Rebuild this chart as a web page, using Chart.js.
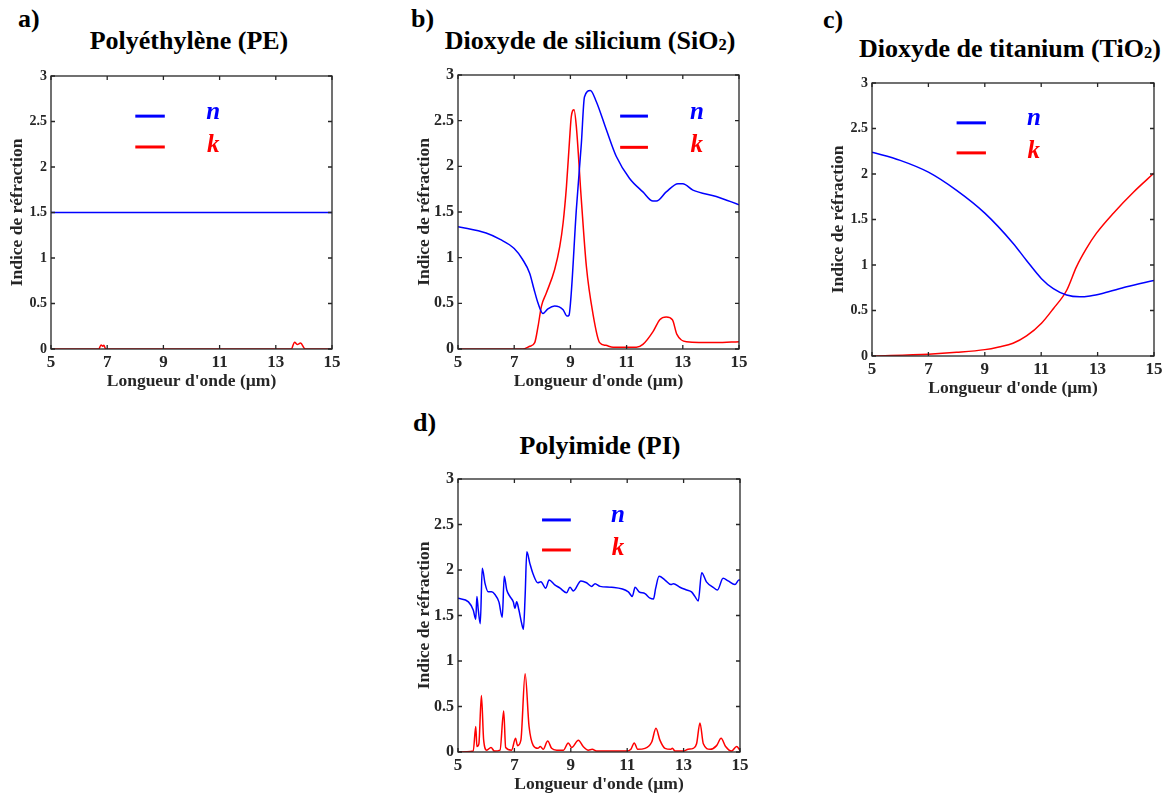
<!DOCTYPE html>
<html>
<head>
<meta charset="utf-8">
<script src="https://cdn.jsdelivr.net/npm/chart.js@4.4.1/dist/chart.umd.min.js"></script>
<style>
  body { margin: 0; background: #fff; width: 1172px; height: 798px; position: relative; overflow: hidden;
         font-family: 'Liberation Serif', 'Times New Roman', serif; }
  .lbl { position: absolute; font-weight: bold; font-size: 26px; line-height: 1; color: #000; }
  .ttl { position: absolute; font-weight: bold; font-size: 26px; line-height: 1; color: #000;
         width: 400px; text-align: center; white-space: nowrap; }
  .ttl sub { font-size: 0.64em; vertical-align: -0.08em; line-height: 0; }
  canvas { position: absolute; }
</style>
</head>
<body>
<div class="lbl" style="left:18px;top:6px">a)</div>
<div class="lbl" style="left:411px;top:6px">b)</div>
<div class="lbl" style="left:823px;top:7px">c)</div>
<div class="lbl" style="left:413px;top:410px">d)</div>

<div class="ttl" style="left:-11px;top:28px">Polyéthylène (PE)</div>
<div class="ttl" style="left:390px;top:28px">Dioxyde de silicium (SiO<sub>2</sub>)</div>
<div class="ttl" style="left:810px;top:36px">Dioxyde de titanium (TiO<sub>2</sub>)</div>
<div class="ttl" style="left:400px;top:433px">Polyimide (PI)</div>

<canvas id="pe"></canvas>
<canvas id="sio2"></canvas>
<canvas id="tio2"></canvas>
<canvas id="pi"></canvas>

<script>
const xTicks = [5, 7, 9, 11, 13, 15];
const yTicks = [0, 0.5, 1, 1.5, 2, 2.5, 3];
const seriesNames = ['n', 'k'];

// a) polyéthylène
const peWl = [5, 6.7, 6.78, 6.84, 6.88, 6.95, 13.55, 13.67, 13.76, 13.88, 14.05, 15];
const peN  = [1.5, 1.5, 1.5, 1.5, 1.5, 1.5, 1.5, 1.5, 1.5, 1.5, 1.5, 1.5];
const peK  = [0, 0, 0.045, 0.03, 0.04, 0, 0, 0.075, 0.05, 0.065, 0, 0];

// b) SiO2
const sio2WlN = [5, 6, 6.5, 7, 7.3, 7.55, 7.7, 7.85, 8.02, 8.2, 8.44, 8.74, 8.88, 8.95, 9.03, 9.21, 9.39, 9.5,
                 9.71, 9.92, 10.28, 10.63, 11.1, 11.58, 11.94, 12.06, 12.41, 12.83, 13.0, 13.36, 14.19, 15];
const sio2N   = [1.34, 1.27, 1.2, 1.1, 0.98, 0.83, 0.66, 0.5, 0.39, 0.44, 0.47, 0.43, 0.36, 0.37, 0.61, 1.52, 2.25, 2.76,
                 2.83, 2.71, 2.4, 2.11, 1.87, 1.72, 1.62, 1.62, 1.72, 1.81, 1.81, 1.74, 1.67, 1.58];
const sio2WlK = [5, 7.3, 7.55, 7.73, 7.85, 7.97, 8.14, 8.44, 8.62, 8.74, 8.86, 8.97, 9.03, 9.13, 9.21, 9.39, 9.57,
                 9.8, 10.04, 10.26, 10.52, 11.35, 11.58, 11.94, 12.18, 12.41, 12.63, 12.79, 13.13, 14.19, 15];
const sio2K   = [0, 0, 0.03, 0.07, 0.25, 0.47, 0.61, 0.87, 1.12, 1.38, 1.78, 2.29, 2.54, 2.62, 2.44, 1.63, 0.9,
                 0.39, 0.07, 0.04, 0.02, 0.02, 0.05, 0.19, 0.32, 0.35, 0.32, 0.16, 0.08, 0.07, 0.08];

// c) TiO2
const tio2WlN = [5, 6, 7, 8, 9, 10, 10.48, 11.01, 11.43, 11.9, 12.37, 12.73, 13.2, 14.03, 15];
const tio2N   = [2.24, 2.15, 2.02, 1.82, 1.57, 1.24, 1.05, 0.85, 0.74, 0.67, 0.65, 0.66, 0.69, 0.76, 0.83];
const tio2WlK = [5, 7, 8, 9, 9.5, 10, 10.48, 11.01, 11.43, 11.9, 12.25, 12.6, 12.96, 13.56, 14.27, 15];
const tio2K   = [0, 0.02, 0.04, 0.07, 0.1, 0.14, 0.22, 0.36, 0.52, 0.72, 0.98, 1.18, 1.35, 1.57, 1.8, 2.01];

// d) polyimide
const piWlN = [5, 5.37, 5.54, 5.63, 5.67, 5.72, 5.79, 5.86, 5.96, 6.07, 6.19, 6.31, 6.45, 6.57, 6.64, 6.73, 6.84,
               6.96, 7.02, 7.08, 7.16, 7.26, 7.32, 7.38, 7.44, 7.55, 7.67, 7.83, 7.94, 8.11, 8.23, 8.42, 8.62,
               8.85, 8.97, 9.09, 9.36, 9.56, 9.74, 9.86, 10.04, 10.45, 11.04, 11.18, 11.28, 11.42, 11.63, 11.81,
               11.93, 12.01, 12.13, 12.34, 12.55, 12.64, 12.87, 13.11, 13.28, 13.4, 13.52, 13.64, 13.81, 14.05,
               14.2, 14.4, 14.58, 14.82, 14.96, 15];
const piN   = [1.69, 1.65, 1.56, 1.46, 1.71, 1.56, 1.41, 2.02, 1.85, 1.76, 1.76, 1.73, 1.65, 1.48, 1.93, 1.78, 1.71,
               1.65, 1.58, 1.65, 1.56, 1.41, 1.35, 1.71, 2.2, 2.07, 1.95, 1.86, 1.87, 1.8, 1.89, 1.84, 1.8,
               1.75, 1.81, 1.77, 1.88, 1.86, 1.82, 1.85, 1.82, 1.81, 1.76, 1.71, 1.81, 1.76, 1.74, 1.69,
               1.68, 1.8, 1.93, 1.89, 1.84, 1.85, 1.81, 1.78, 1.76, 1.71, 1.66, 1.97, 1.87, 1.81,
               1.78, 1.91, 1.88, 1.84, 1.89, 1.89];
const piWlK = [5, 5.54, 5.63, 5.67, 5.74, 5.83, 5.91, 6.02, 6.17, 6.29, 6.49, 6.62, 6.69, 6.9, 7.04, 7.11, 7.23,
               7.38, 7.52, 7.67, 7.83, 7.92, 8.02, 8.18, 8.32, 8.5, 8.74, 8.91, 9.03, 9.27, 9.44, 9.62, 9.76,
               9.91, 10.98, 11.13, 11.25, 11.37, 11.63, 11.87, 12.02, 12.16, 12.34, 12.55, 12.6, 12.7, 12.99,
               13.16, 13.34, 13.46, 13.58, 13.7, 13.94, 14.17, 14.33, 14.49, 14.7, 14.88, 15];
const piK   = [0, 0.01, 0.28, 0.06, 0.09, 0.62, 0.13, 0.02, 0.05, 0.01, 0.02, 0.45, 0.05, 0.02, 0.15, 0.07, 0.13,
               0.86, 0.28, 0.07, 0.04, 0.06, 0.03, 0.12, 0.04, 0.02, 0.02, 0.1, 0.05, 0.13, 0.06, 0.02, 0.03,
               0.01, 0.01, 0.03, 0.1, 0.03, 0.04, 0.11, 0.26, 0.13, 0.04, 0.03, 0.04, 0.01, 0.01,
               0.03, 0.04, 0.09, 0.32, 0.09, 0.03, 0.07, 0.15, 0.06, 0.01, 0.06, 0.02];

const serif = "'Liberation Serif', 'Times New Roman', serif";
const axisGray = '#262626';

function pts(xs, ys) {
  return xs.map((x, i) => ({x: x, y: ys[i]}));
}

// box + inward ticks on the four sides
const frame = {
  id: 'frame',
  afterDatasetsDraw(chart) {
    const {ctx, chartArea: a, scales: {x, y}} = chart;
    ctx.save();
    ctx.strokeStyle = axisGray;
    ctx.lineWidth = 1.3;
    ctx.strokeRect(a.left, a.top, a.width, a.height);
    ctx.beginPath();
    x.ticks.forEach(t => {
      const p = x.getPixelForValue(t.value);
      ctx.moveTo(p, a.bottom); ctx.lineTo(p, a.bottom - 4);
      ctx.moveTo(p, a.top); ctx.lineTo(p, a.top + 4);
    });
    y.ticks.forEach(t => {
      const p = y.getPixelForValue(t.value);
      ctx.moveTo(a.left, p); ctx.lineTo(a.left + 4, p);
      ctx.moveTo(a.right, p); ctx.lineTo(a.right - 4, p);
    });
    ctx.stroke();
    ctx.restore();
  }
};

// legend drawn inside the plot
const inLegend = {
  id: 'inLegend',
  afterDraw(chart, args, o) {
    const {ctx, chartArea: a} = chart;
    ctx.save();
    chart.data.datasets.forEach((ds, i) => {
      const ly = a.top + o.ys[i] * a.height;
      ctx.strokeStyle = ds.borderColor;
      ctx.lineWidth = 3;
      ctx.beginPath();
      ctx.moveTo(a.left + o.x1 * a.width, ly);
      ctx.lineTo(a.left + o.x2 * a.width, ly);
      ctx.stroke();
      ctx.fillStyle = ds.borderColor;
      ctx.font = 'italic bold 25px ' + serif;
      ctx.textAlign = 'center';
      ctx.textBaseline = 'alphabetic';
      ctx.fillText(ds.label, a.left + o.tx * a.width, ly + o.dy[i]);
    });
    ctx.restore();
  }
};

function makeChart(id, box, nWl, nVals, kWl, kVals, yTickSize, leg) {
  const cv = document.getElementById(id);
  cv.width = 44 + box.w + 14;
  cv.height = 12 + box.h + 46;
  cv.style.left = (box.l - 44) + 'px';
  cv.style.top = (box.t - 12) + 'px';
  const line = {pointRadius: 0, borderWidth: 1.5, fill: false, cubicInterpolationMode: 'monotone'};
  return new Chart(cv, {
    type: 'line',
    data: {
      datasets: [
        Object.assign({label: seriesNames[0], data: pts(nWl, nVals), borderColor: '#0000ff'}, line),
        Object.assign({label: seriesNames[1], data: pts(kWl, kVals), borderColor: '#ff0000'}, line)
      ]
    },
    options: {
      responsive: false,
      animation: false,
      layout: {padding: {left: 0, top: 12, right: 14, bottom: 0}},
      plugins: {legend: {display: false}, tooltip: {enabled: false}, inLegend: leg},
      scales: {
        x: {
          type: 'linear', min: 5, max: 15,
          afterBuildTicks: s => { s.ticks = xTicks.map(v => ({value: v})); },
          afterFit: s => { s.height = 46; s.paddingLeft = 0; s.paddingRight = 0; },
          grid: {display: false, drawTicks: false},
          border: {display: false},
          ticks: {callback: v => String(v), font: {family: serif, size: 17, weight: 'bold'},
                  color: axisGray, padding: 3, maxRotation: 0, autoSkip: false},
          title: {display: true, text: "Longueur d'onde (µm)", color: axisGray,
                  font: {family: serif, size: 17.5, weight: 'bold'}, padding: {top: 0, bottom: 3}}
        },
        y: {
          min: 0, max: 3,
          afterBuildTicks: s => { s.ticks = yTicks.map(v => ({value: v})); },
          afterFit: s => { s.width = 44; s.paddingTop = 0; s.paddingBottom = 0; },
          grid: {display: false, drawTicks: false},
          border: {display: false},
          ticks: {callback: v => String(v), font: {family: serif, size: yTickSize, weight: 'bold'},
                  color: axisGray, padding: 4, autoSkip: false},
          title: {display: true, text: 'Indice de réfraction', color: axisGray,
                  font: {family: serif, size: 17.5, weight: 'bold'}, padding: {top: 0, bottom: 0}}
        }
      }
    },
    plugins: [frame, inLegend]
  });
}

makeChart('pe', {l: 51, t: 76, w: 281, h: 273}, peWl, peN, peWl, peK, 14,
  {x1: 0.30, x2: 0.405, tx: 0.577, ys: [0.147, 0.26], dy: [2.5, 5]});
makeChart('sio2', {l: 458, t: 75, w: 281, h: 274}, sio2WlN, sio2N, sio2WlK, sio2K, 16,
  {x1: 0.577, x2: 0.676, tx: 0.85, ys: [0.15, 0.264], dy: [2.5, 5]});
makeChart('tio2', {l: 872, t: 83, w: 282, h: 273}, tio2WlN, tio2N, tio2WlK, tio2K, 14,
  {x1: 0.30, x2: 0.404, tx: 0.574, ys: [0.146, 0.256], dy: [2.5, 5.5]});
makeChart('pi', {l: 458, t: 479, w: 282, h: 273}, piWlN, piN, piWlK, piK, 16,
  {x1: 0.298, x2: 0.40, tx: 0.567, ys: [0.15, 0.26], dy: [2.5, 5]});
</script>
</body>
</html>
